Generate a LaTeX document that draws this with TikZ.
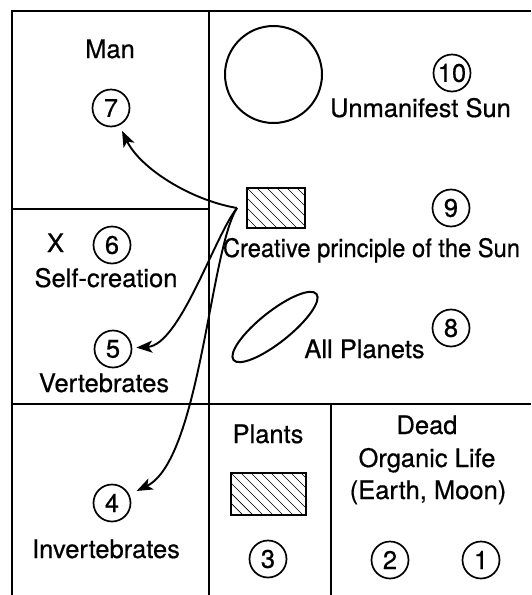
\documentclass[tikz,border=0pt]{standalone}
\usepackage{graphicx}
\usepackage{fontspec}
\setmainfont{TeX Gyre Heros}[FakeBold=0.6]
\usetikzlibrary{arrows.meta}
\begin{document}
\begin{tikzpicture}[x=1pt,y=-1pt,
  frame/.style={line width=2pt},
  num/.style={circle, draw, line width=1.7pt, minimum size=37pt, inner sep=0pt, font=\fontsize{25.5}{30}\selectfont},
  lbl/.style={anchor=base, inner sep=0pt, font=\fontsize{25.5}{30}\selectfont},
  arr/.style={line width=1.9pt, -{Stealth[length=16pt,width=12pt,inset=4pt]}},
  hatchbox/.style={draw, line width=1.3pt, inner sep=0pt},
  hatchline/.style={line width=0.7pt}
]
\useasboundingbox (0,0) rectangle (531,595);
% frame
\draw[frame] (12,595) -- (12,11) -- (531,11);
\draw[frame] (209,11) -- (209,595);
\draw[frame] (12,209) -- (209,209);
\draw[frame] (12,404) -- (531,404);
\draw[frame] (331,404) -- (331,595);
% shapes
\node (sun) [circle, draw, line width=2pt, minimum size=97pt, inner sep=0pt] at (273.5,74.5) {};
\draw[line width=2pt, rotate around={38.5:(275,327)}] (275,327) ellipse [x radius=53pt, y radius=15.5pt];
% hatched boxes
\begin{scope}
\clip (247,188) rectangle (305,228);
\foreach \i in {0,1,...,12} \draw[hatchline] (187+10*\i,188) -- ++(60,60);
\end{scope}
\node (cps) [hatchbox, minimum width=58pt, minimum height=40pt] at (276,208) {};
\begin{scope}
\clip (231,473) rectangle (306,515);
\foreach \i in {0,1,...,14} \draw[hatchline] (171+10*\i,473) -- ++(60,60);
\end{scope}
\node (pl) [hatchbox, minimum width=75pt, minimum height=42pt] at (268.5,494) {};
% labels
\node (tman) [lbl] at (110,58) {Man};
\node (tsun) [lbl] at (420.5,117) {Unmanifest Sun};
\node (tcre) [lbl] at (371.5,257) {\scalebox{0.93}[1]{Creative principle of the Sun}};
\node (tx) [lbl] at (55.5,252) {X};
\node (tself) [lbl] at (106,287) {Self-creation};
\node (tvert) [lbl] at (104,392) {Vertebrates};
\node (tall) [lbl] at (364.5,358) {All Planets};
\node (tinv) [lbl] at (106,558) {Invertebrates};
\node (tpl) [lbl] at (268,443) {Plants};
\node (tdead) [lbl] at (427,434) {Dead};
\node (torg) [lbl] at (427,467) {Organic Life};
\node (tem) [lbl] at (428,499) {(Earth, Moon)};
% numbers
\node (n7) [num] at (111,108) {7};
\node (n10) [num] at (452,73) {10};
\node (n9) [num] at (451,208) {9};
\node (n6) [num] at (112,245) {6};
\node (n8) [num] at (451,328) {8};
\node (n5) [num] at (113,349) {5};
\node (n4) [num] at (112,503) {4};
\node (n3) [num] at (268,559) {3};
\node (n2) [num] at (390,560) {2};
\node (n1) [num] at (481,560) {1};
% arrows
\coordinate (fan) at (237,208);
\draw[arr, shorten >=6pt] (fan) .. controls (190,200) and (140,168) .. (n7);
\draw[arr, shorten >=4pt] (fan) .. controls (215,235) and (180,345) .. (n5);
\draw[arr, shorten >=8pt] (fan) .. controls (210,250) and (200,460) .. (n4);
\end{tikzpicture}
\end{document}
